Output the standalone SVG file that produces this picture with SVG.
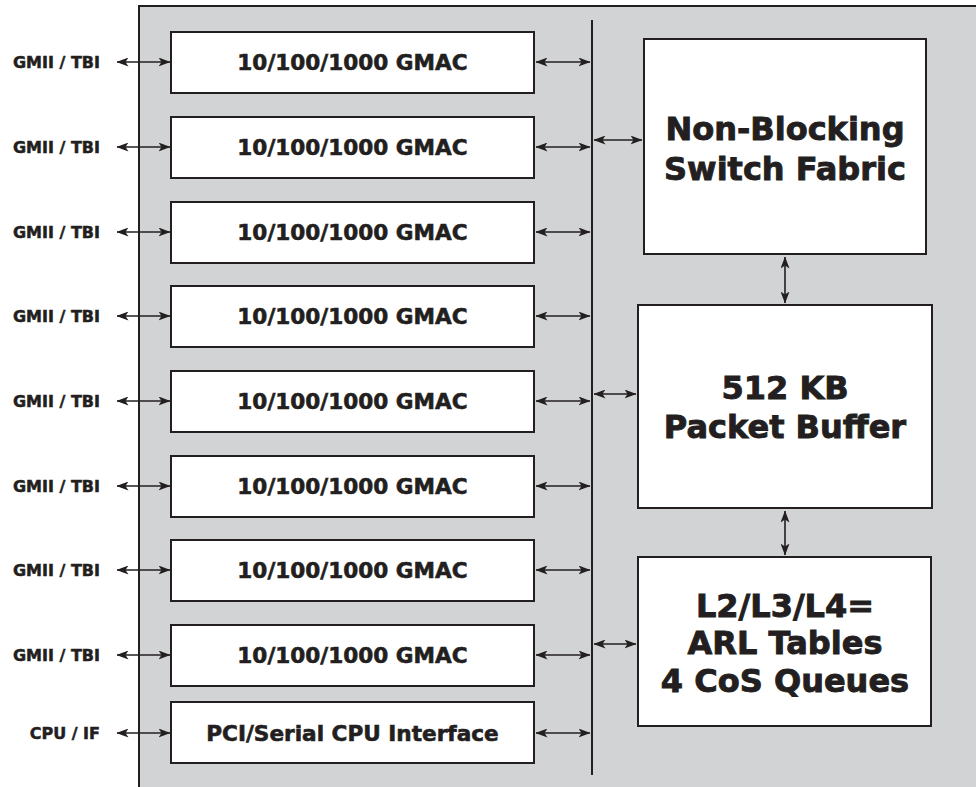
<svg xmlns="http://www.w3.org/2000/svg" width="976" height="787" viewBox="0 0 976 787">
<defs>
<marker id="ah" markerUnits="userSpaceOnUse" markerWidth="12" markerHeight="9" refX="11.5" refY="4.5" orient="auto-start-reverse" viewBox="0 0 12 9">
<path d="M0,0 L12,4.5 L0,9 L3,4.5 z" fill="#231f20"/>
</marker>
<style>
.box{fill:#ffffff;stroke:#231f20;stroke-width:2}
.lbl{font-family:"DejaVu Sans",sans-serif;font-weight:bold;fill:#231f20;stroke:#231f20}
.port{font-size:16px;text-anchor:end;stroke-width:0.5}
.mid{font-size:21.6px;text-anchor:middle;stroke-width:0.6}
.big{font-size:32px;text-anchor:middle;stroke-width:0.9}
.arr{stroke:#231f20;stroke-width:1.6;fill:none;marker-start:url(#ah);marker-end:url(#ah)}
</style>
</defs>
<rect id="chip" x="139" y="6" width="850" height="800" fill="#d1d3d4" stroke="#231f20" stroke-width="2"/>
<g id="connectors">
<line x1="592" y1="20" x2="592" y2="775" stroke="#231f20" stroke-width="2"/>
<line class="arr" x1="117" y1="62" x2="170" y2="62"/>
<line class="arr" x1="117" y1="147" x2="170" y2="147"/>
<line class="arr" x1="117" y1="232" x2="170" y2="232"/>
<line class="arr" x1="117" y1="316" x2="170" y2="316"/>
<line class="arr" x1="117" y1="401" x2="170" y2="401"/>
<line class="arr" x1="117" y1="486" x2="170" y2="486"/>
<line class="arr" x1="117" y1="570" x2="170" y2="570"/>
<line class="arr" x1="117" y1="655" x2="170" y2="655"/>
<line class="arr" x1="117" y1="733" x2="170" y2="733"/>
<line class="arr" x1="536" y1="62" x2="590" y2="62"/>
<line class="arr" x1="536" y1="147" x2="590" y2="147"/>
<line class="arr" x1="536" y1="232" x2="590" y2="232"/>
<line class="arr" x1="536" y1="316" x2="590" y2="316"/>
<line class="arr" x1="536" y1="401" x2="590" y2="401"/>
<line class="arr" x1="536" y1="486" x2="590" y2="486"/>
<line class="arr" x1="536" y1="570" x2="590" y2="570"/>
<line class="arr" x1="536" y1="655" x2="590" y2="655"/>
<line class="arr" x1="536" y1="733" x2="590" y2="733"/>
<line class="arr" x1="594" y1="140" x2="642" y2="140"/>
<line class="arr" x1="594" y1="394" x2="636" y2="394"/>
<line class="arr" x1="594" y1="644" x2="636" y2="644"/>
<line class="arr" x1="785" y1="257" x2="785" y2="303"/>
<line class="arr" x1="785" y1="511" x2="785" y2="555"/>
</g>
<g id="ports">
<text class="lbl port" x="100" y="68">GMII / TBI</text>
<text class="lbl port" x="100" y="153">GMII / TBI</text>
<text class="lbl port" x="100" y="238">GMII / TBI</text>
<text class="lbl port" x="100" y="322">GMII / TBI</text>
<text class="lbl port" x="100" y="407">GMII / TBI</text>
<text class="lbl port" x="100" y="492">GMII / TBI</text>
<text class="lbl port" x="100" y="576">GMII / TBI</text>
<text class="lbl port" x="100" y="661">GMII / TBI</text>
<text class="lbl port" x="100" y="739">CPU / IF</text>
</g>
<g id="gmac1"><rect class="box" x="171" y="32" width="363" height="61"/><text class="lbl mid" x="352.5" y="70">10/100/1000 GMAC</text></g>
<g id="gmac2"><rect class="box" x="171" y="117" width="363" height="61"/><text class="lbl mid" x="352.5" y="155">10/100/1000 GMAC</text></g>
<g id="gmac3"><rect class="box" x="171" y="202" width="363" height="61"/><text class="lbl mid" x="352.5" y="240">10/100/1000 GMAC</text></g>
<g id="gmac4"><rect class="box" x="171" y="286" width="363" height="61"/><text class="lbl mid" x="352.5" y="324">10/100/1000 GMAC</text></g>
<g id="gmac5"><rect class="box" x="171" y="371" width="363" height="61"/><text class="lbl mid" x="352.5" y="409">10/100/1000 GMAC</text></g>
<g id="gmac6"><rect class="box" x="171" y="456" width="363" height="61"/><text class="lbl mid" x="352.5" y="494">10/100/1000 GMAC</text></g>
<g id="gmac7"><rect class="box" x="171" y="540" width="363" height="61"/><text class="lbl mid" x="352.5" y="578">10/100/1000 GMAC</text></g>
<g id="gmac8"><rect class="box" x="171" y="625" width="363" height="61"/><text class="lbl mid" x="352.5" y="663">10/100/1000 GMAC</text></g>
<g id="cpuif"><rect class="box" x="171" y="702" width="363" height="61"/><text class="lbl mid" x="352.5" y="741">PCI/Serial CPU Interface</text></g>
<g id="fabric"><rect class="box" x="644" y="39" width="282" height="215"/><text class="lbl big" x="785" y="140">Non-Blocking</text><text class="lbl big" x="785" y="180">Switch Fabric</text></g>
<g id="buffer"><rect class="box" x="638" y="305" width="294" height="203"/><text class="lbl big" x="785" y="399">512 KB</text><text class="lbl big" x="785" y="438">Packet Buffer</text></g>
<g id="arl"><rect class="box" x="638" y="557" width="293" height="169"/><text class="lbl big" x="785" y="617">L2/L3/L4=</text><text class="lbl big" x="785" y="654">ARL Tables</text><text class="lbl big" x="785" y="692">4 CoS Queues</text></g>
</svg>
